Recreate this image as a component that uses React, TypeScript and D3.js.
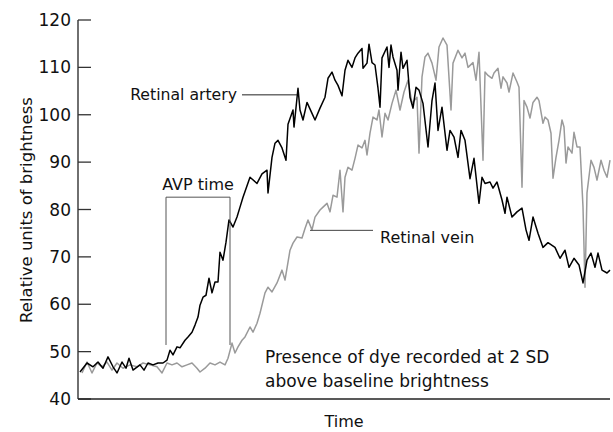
import React from "react";
import * as d3 from "d3";

// time in frames, brightness in relative units
const arteryTime = [2, 9, 15, 20, 25, 30, 35, 39, 44, 48, 51, 55, 62, 66, 70, 75, 80, 85, 89, 92, 95, 99, 102, 107, 110, 114, 117, 120, 122, 125, 128, 131, 134, 137, 140, 142, 145, 148, 151, 155, 159, 162, 165, 172, 179, 184, 189, 190, 194, 197, 200, 204, 208, 210, 215, 216, 220, 222, 225, 229, 234, 237, 242, 247, 250, 254, 257, 260, 264, 267, 270, 274, 277, 280, 284, 285, 289, 291, 294, 297, 300, 302, 304, 309, 311, 313, 315, 319, 320, 323, 325, 329, 332, 335, 338, 341, 345, 350, 354, 357, 360, 364, 369, 372, 376, 380, 383, 387, 392, 396, 401, 404, 407, 412, 415, 419, 424, 427, 429, 434, 439, 444, 448, 451, 455, 460, 465, 470, 477, 482, 487, 491, 496, 501, 505, 509, 513, 517, 520, 524, 529, 532];
const arteryValues = [45.7, 47.6, 46.8, 47.8, 46.5, 48.9, 46.8, 45.5, 47.8, 46.5, 48.6, 46.1, 47.2, 46.1, 47.6, 47.2, 47.6, 47.6, 48.2, 50.3, 49.3, 51, 50.8, 52.4, 53.1, 54.1, 55.6, 57.3, 59.8, 61.5, 61.9, 65.5, 62.4, 64.7, 64.7, 71, 69.3, 73.1, 77.8, 76.3, 78.4, 80.5, 82.6, 86.8, 85.5, 87.5, 88.3, 83.5, 91, 94, 94.6, 93, 90.4, 98, 101, 97.4, 105.6, 101, 98.9, 102.6, 100.3, 98.9, 101.4, 103.7, 107.7, 109, 107.3, 106.2, 104, 109.4, 111.5, 110, 112, 113, 114, 109.8, 110.9, 114.9, 111, 110.5, 105.6, 101.6, 112, 114.3, 110, 114.7, 112.2, 109.4, 105.2, 113.2, 109.8, 111.5, 103.7, 101.4, 105.8, 105.2, 102.4, 93.2, 103, 106.7, 96.7, 101.6, 92.5, 96.7, 95.3, 91, 96.7, 94.6, 86.5, 90.8, 81.3, 86.8, 85.5, 85.8, 84.5, 85.8, 82, 79.2, 82.6, 78.4, 79.5, 80.3, 75.7, 73.5, 78.4, 75, 72, 73, 72, 69.7, 71.4, 67.8, 69.7, 68.3, 64.5, 69.3, 70.8, 67.8, 70.8, 67.2, 66.6, 67.2];

const veinTime = [4, 9, 14, 19, 24, 29, 34, 39, 45, 52, 59, 65, 72, 79, 84, 89, 94, 99, 104, 109, 114, 119, 122, 127, 132, 137, 142, 147, 150, 154, 157, 160, 164, 167, 172, 175, 179, 182, 187, 190, 194, 199, 204, 207, 212, 215, 219, 224, 227, 230, 234, 237, 242, 245, 249, 252, 255, 259, 262, 265, 267, 270, 274, 277, 280, 284, 287, 289, 292, 295, 299, 301, 304, 307, 310, 314, 318, 322, 326, 330, 334, 339, 341, 344, 347, 350, 354, 358, 361, 365, 369, 373, 375, 380, 384, 387, 390, 395, 398, 401, 405, 407, 410, 414, 416, 420, 423, 425, 429, 431, 435, 439, 441, 444, 446, 449, 452, 455, 459, 461, 465, 467, 470, 473, 475, 478, 481, 484, 486, 488, 490, 494, 496, 499, 502, 505, 507, 509, 513, 516, 519, 523, 526, 529, 532];
const veinValues = [45.5, 47.8, 45.5, 47.6, 46.8, 47.8, 46.1, 47.6, 46.5, 47.2, 46.8, 47.6, 47.2, 46.8, 45.5, 47.6, 47.2, 47.6, 46.8, 47.2, 47.6, 46.5, 45.7, 46.5, 47.6, 47.2, 47.8, 47.2, 48.6, 51.8, 49.7, 51, 52.4, 53.1, 55.2, 54.1, 56, 58.1, 62.4, 63.6, 62.6, 64.5, 67.2, 65.1, 71.4, 72.9, 74.2, 74, 76, 77.8, 75.7, 78.4, 79.9, 80.5, 81.3, 79.5, 83, 82.6, 88.3, 79.5, 86.8, 88.9, 88.3, 90.8, 93.6, 93, 94.6, 91.5, 96.1, 99.5, 98.9, 101, 95.3, 100.3, 98.9, 102.4, 105.2, 101, 104.8, 107.3, 102.4, 103.7, 91.9, 108, 112.2, 113, 110.9, 107.3, 114.3, 116.2, 114.7, 101, 110.9, 113.6, 112, 113, 110, 111, 107.3, 113.2, 90.4, 109, 108.3, 107.7, 108.8, 109.8, 105.6, 108, 106.7, 104.8, 108.8, 106.9, 105.8, 84.7, 103, 101.6, 99.3, 102.6, 103.7, 103, 98.2, 99.5, 98.9, 96.1, 86.6, 91, 94.6, 98.9, 97.4, 89.8, 93.2, 91.9, 96.3, 93.2, 93.2, 80.5, 63.6, 83.5, 90.4, 88.9, 86.2, 90.4, 88.3, 86.8, 90.4];

const yTicks = [40, 50, 60, 70, 80, 90, 100, 110, 120];

const W = 613;
const H = 432;
const margin = { top: 20, right: 3, bottom: 33, left: 78 };
const font = "'DejaVu Sans', sans-serif";

const App = () => {
  const x = d3.scaleLinear().domain([0, 532]).range([margin.left, W - margin.right]);
  const y = d3.scaleLinear().domain([40, 120]).range([H - margin.bottom, margin.top]);

  const line = d3.line<[number, number]>().x(d => x(d[0])).y(d => y(d[1]));
  const artery = d3.zip(arteryTime, arteryValues) as [number, number][];
  const vein = d3.zip(veinTime, veinValues) as [number, number][];

  // AVP bracket, in data units
  const avpL = x(88), avpR = x(152), avpTop = y(82.6), avpBot = y(51.4);

  return (
    <svg width={W} height={H} style={{ position: "absolute", left: 0, top: 0, background: "#fff" }}>
      {/* y axis */}
      <line x1={margin.left} x2={margin.left} y1={y(120)} y2={y(40)} stroke="#222" strokeWidth={1.3} />
      {yTicks.map(t => (
        <g key={t}>
          <line x1={margin.left} x2={margin.left + 13} y1={y(t)} y2={y(t)} stroke="#333" strokeWidth={1.3} />
          <text x={margin.left - 7} y={y(t)} dy="0.36em" textAnchor="end" fontSize={17} fontFamily={font} fill="#111">{t}</text>
        </g>
      ))}
      {/* x axis */}
      <line x1={margin.left} x2={W - margin.right} y1={y(40)} y2={y(40)} stroke="#222" strokeWidth={1.3} />
      <text x={344} y={427} textAnchor="middle" fontSize={16} fontFamily={font} fill="#111">Time</text>
      <text transform={`translate(32, 210) rotate(-90)`} textAnchor="middle" fontSize={16.5} fontFamily={font} fill="#111">Relative units of brightness</text>

      <path d={line(vein) ?? ""} fill="none" stroke="#9a9a9a" strokeWidth={1.5} strokeLinejoin="round" />
      <path d={line(artery) ?? ""} fill="none" stroke="#000" strokeWidth={1.5} strokeLinejoin="round" />

      {/* annotations */}
      <text x={237} y={100} textAnchor="end" fontSize={15.7} fontFamily={font} fill="#111">Retinal artery</text>
      <line x1={242} x2={x(219)} y1={y(104.2)} y2={y(104.2)} stroke="#222" strokeWidth={1} />

      <text x={(avpL + avpR) / 2} y={190} textAnchor="middle" fontSize={16} fontFamily={font} fill="#111">AVP time</text>
      <path d={`M${avpL},${avpBot}V${avpTop}H${avpR}V${avpBot}`} fill="none" stroke="#555" strokeWidth={1} />

      <line x1={x(232)} x2={373} y1={y(75.6)} y2={y(75.6)} stroke="#444" strokeWidth={1} />
      <text x={380} y={243} fontSize={16} fontFamily={font} fill="#111">Retinal vein</text>

      <text x={265} y={363} fontSize={17} fontFamily={font} fill="#111">Presence of dye recorded at 2 SD</text>
      <text x={265} y={387} fontSize={17} fontFamily={font} fill="#111">above baseline brightness</text>
    </svg>
  );
};

export default App;
